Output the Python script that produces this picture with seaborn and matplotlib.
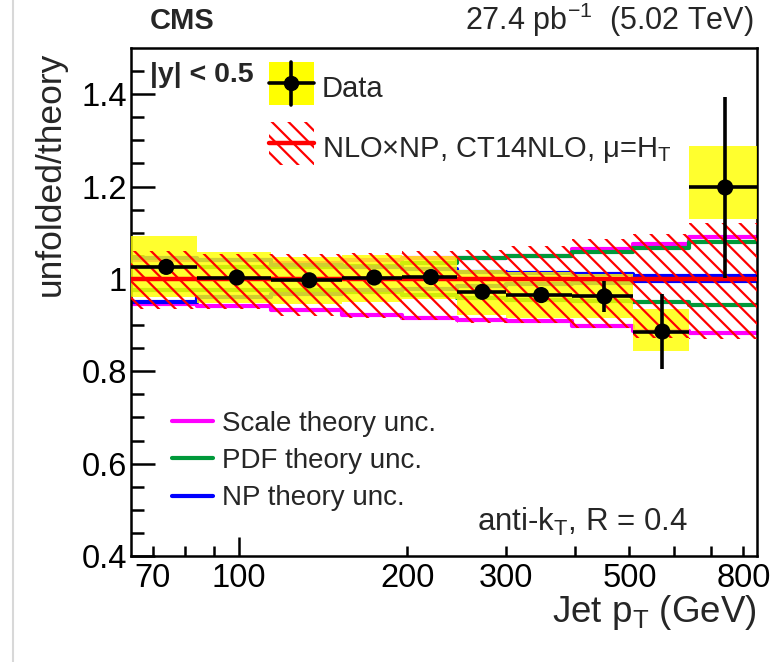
import numpy as np
import pandas as pd
import matplotlib
matplotlib.use("Agg")
import matplotlib.pyplot as plt
import seaborn as sns
from matplotlib.lines import Line2D
from matplotlib.patches import Rectangle, Patch
from matplotlib.legend_handler import HandlerBase
from matplotlib.ticker import FixedLocator, FixedFormatter, NullFormatter

# ---------------- data ----------------
bin_edges = [64, 84, 114, 153, 196, 245, 300, 395, 507, 638, 846]
data_ratio = [1.026, 1.003, 0.997, 1.003, 1.004, 0.972, 0.965, 0.962, 0.886, 1.198]
data_stat = [0.004, 0.004, 0.004, 0.005, 0.006, 0.008, 0.012, 0.034, 0.081, 0.195]
data_syst_lo = [0.960, 0.947, 0.946, 0.950, 0.957, 0.922, 0.915, 0.915, 0.844, 1.129]
data_syst_hi = [1.092, 1.059, 1.048, 1.052, 1.050, 1.020, 1.015, 1.010, 0.935, 1.288]

total_up = [1.060, 1.055, 1.054, 1.057, 1.060, 1.062, 1.072, 1.087, 1.097, 1.120]
total_dn = [0.935, 0.935, 0.920, 0.915, 0.910, 0.905, 0.905, 0.893, 0.873, 0.869]
scale_up = [1.040, 1.040, 1.035, 1.040, 1.045, 1.045, 1.050, 1.064, 1.075, 1.091]
scale_dn = [0.945, 0.941, 0.933, 0.922, 0.916, 0.910, 0.909, 0.898, 0.887, 0.882]
pdf_up = [1.025, 1.025, 1.025, 1.028, 1.035, 1.046, 1.050, 1.058, 1.068, 1.079]
pdf_dn = [0.975, 0.975, 0.975, 0.972, 0.965, 0.958, 0.955, 0.952, 0.949, 0.943]
np_up = [1.045, 1.040, 1.030, 1.025, 1.022, 1.015, 1.012, 1.010, 1.007, 1.006]
np_dn = [0.950, 0.960, 0.968, 0.975, 0.978, 0.985, 0.990, 0.992, 0.995, 0.996]
theory_central = [1.0] * 10

x_tick_labels = ["70", "100", "200", "300", "500", "800"]
y_tick_labels = ["0.4", "0.6", "0.8", "1", "1.2", "1.4"]

# ---------------- style ----------------
sns.set_theme(style="ticks")
plt.rcParams["font.family"] = ["Liberation Sans", "DejaVu Sans"]
plt.rcParams["mathtext.fontset"] = "custom"
plt.rcParams["mathtext.rm"] = "Liberation Sans"
plt.rcParams["mathtext.it"] = "Liberation Sans:italic"
plt.rcParams["mathtext.bf"] = "Liberation Sans:bold"
plt.rcParams["hatch.linewidth"] = 1.6
plt.rcParams["axes.linewidth"] = 1.8

MAGENTA = "#ff00ff"
GREEN = "#00993a"
BLUE = "#0000ff"
RED = "#ff0000"
YELLOW = "#ffff00"

fig = plt.figure(figsize=(7.83, 6.62), dpi=100)
ax = fig.add_axes([131 / 783, 1 - 556 / 662, 626 / 783, 508 / 662])

edges = np.array(bin_edges, dtype=float)
lo = edges[:-1]
hi = edges[1:]
centers = 0.5 * (lo + hi)

def ext(v):
    v = list(v)
    return v + [v[-1]]

# theory component lines (drawn first, under the yellow boxes)
for up, dn, col in [(scale_up, scale_dn, MAGENTA), (pdf_up, pdf_dn, GREEN), (np_up, np_dn, BLUE)]:
    for arr in (up, dn):
        df = pd.DataFrame({"pt": edges, "r": ext(arr)})
        sns.lineplot(data=df, x="pt", y="r", ax=ax, color=col, lw=3.0,
                     drawstyle="steps-post", estimator=None, sort=False, zorder=2)

# data systematic boxes
ax.bar(lo, np.array(data_syst_hi) - np.array(data_syst_lo), bottom=data_syst_lo,
       width=hi - lo, align="edge", color=YELLOW, alpha=0.82, linewidth=0, zorder=3)

# total theory uncertainty hatch
ax.fill_between(edges, ext(total_dn), ext(total_up), step="post", facecolor="none",
                edgecolor=RED, hatch="\\\\", linewidth=0, zorder=4)

# central theory
dfc = pd.DataFrame({"pt": edges, "r": ext(theory_central)})
sns.lineplot(data=dfc, x="pt", y="r", ax=ax, color=RED, lw=3.2,
             drawstyle="steps-post", estimator=None, sort=False, zorder=5)

# data points
ax.errorbar(centers, data_ratio, yerr=data_stat, xerr=[centers - lo, hi - centers],
            fmt="none", ecolor="black", elinewidth=2.6, capsize=0, zorder=6)
sns.scatterplot(x=centers, y=data_ratio, ax=ax, color="black", s=135,
                edgecolor="none", zorder=7)

# ---------------- axes ----------------
ax.set_xscale("log")
ax.set_xlim(64, 846)
ax.set_ylim(0.4, 1.5)

ax.xaxis.set_major_locator(FixedLocator([100]))
ax.xaxis.set_major_formatter(FixedFormatter(["100"]))
minor_x = [70, 80, 90, 200, 300, 400, 500, 600, 700, 800]
ax.xaxis.set_minor_locator(FixedLocator(minor_x))
ax.xaxis.set_minor_formatter(FixedFormatter(["70", "", "", "200", "300", "", "500", "", "", "800"]))

ax.yaxis.set_major_locator(FixedLocator([0.4, 0.6, 0.8, 1.0, 1.2, 1.4]))
ax.yaxis.set_major_formatter(FixedFormatter(y_tick_labels))
ax.yaxis.set_minor_locator(FixedLocator(np.round(np.arange(0.45, 1.5, 0.05), 2)))
ax.yaxis.set_minor_formatter(NullFormatter())

ax.tick_params(axis="both", which="both", direction="in", top=False, right=False,
               colors="black", width=1.8)
ax.tick_params(axis="x", which="major", length=14, labelsize=23.5, pad=5)
ax.tick_params(axis="x", which="minor", length=7, labelsize=23.5, pad=5)
ax.tick_params(axis="y", which="major", length=17, labelsize=23.5, pad=3)
ax.tick_params(axis="y", which="minor", length=9)
for s in ax.spines.values():
    s.set_color("black")
    s.set_linewidth(1.8)

ax.set_xlabel("Jet p$_{\\mathrm{T}}$ (GeV)", fontsize=26.5, loc="right")
ax.xaxis.set_label_coords(1.0, -0.072)
ax.set_ylabel("unfolded/theory", fontsize=25.5, rotation=90, rotation_mode="default",
              ha="right", va="top")
ax.yaxis.set_label_coords(-0.102, 0.992)

# ---------------- texts ----------------
fig.text(150 / 783, 1 - 29 / 662, "CMS", fontsize=21, fontweight="bold", ha="left", va="baseline")
fig.text(754 / 783, 1 - 30 / 662, "27.4 pb$^{-1}$  (5.02 TeV)", fontsize=22, ha="right", va="baseline")
ax.text(0.031, 0.933, "|y| < 0.5", transform=ax.transAxes, fontsize=20.5, fontweight="bold",
        ha="left", va="baseline")
ax.text(0.553, 0.05, "anti-k$_{\\mathrm{T}}$, R = 0.4", transform=ax.transAxes, fontsize=22.5,
        ha="left", va="baseline")

# ---------------- legends ----------------
class DataHandler(HandlerBase):
    def create_artists(self, legend, orig_handle, xdescent, ydescent, width, height, fontsize, trans):
        x0, y0 = -xdescent, -ydescent
        full = height + ydescent
        r = Rectangle((x0, y0), width, full, facecolor=YELLOW, edgecolor="none", transform=trans)
        h = Line2D([x0, x0 + width], [y0 + full / 2] * 2, color="black", lw=2.6, transform=trans)
        v = Line2D([x0 + width / 2] * 2, [y0, y0 + full], color="black", lw=2.6, transform=trans)
        m = Line2D([x0 + width / 2], [y0 + full / 2], marker="o", ms=10, color="black",
                   lw=0, transform=trans)
        return [r, h, v, m]

class TheoryHandler(HandlerBase):
    def create_artists(self, legend, orig_handle, xdescent, ydescent, width, height, fontsize, trans):
        x0, y0 = -xdescent, -ydescent
        full = height + ydescent
        r = Rectangle((x0, y0), width, full, facecolor="none", edgecolor=RED, hatch="\\\\",
                      lw=0, transform=trans)
        l = Line2D([x0, x0 + width], [y0 + full / 2] * 2, color=RED, lw=3.2, transform=trans)
        return [r, l]

fs1 = 21
px1 = fs1 * 100 / 72
leg1 = ax.legend(handles=[Patch(), Line2D([], [])],
                 labels=["Data", "NLO\u00d7NP, CT14NLO, \u03bc=H$_{\\mathrm{T}}$"],
                 handler_map={Patch: DataHandler(), Line2D: TheoryHandler()},
                 loc="upper left", bbox_to_anchor=(0.2204, 0.957), frameon=False,
                 fontsize=fs1, handlelength=45 / px1, handleheight=43 / px1,
                 handletextpad=8 / px1, borderpad=0, borderaxespad=0, labelspacing=0.84)
ax.add_artist(leg1)

fs2 = 20
px2 = fs2 * 100 / 72
h2 = [Line2D([], [], color=MAGENTA, lw=3.0), Line2D([], [], color=GREEN, lw=3.0),
      Line2D([], [], color=BLUE, lw=3.0)]
leg2 = ax.legend(handles=h2, labels=["Scale theory unc.", "PDF theory unc.", "NP theory unc."],
                 loc="upper left", bbox_to_anchor=(0.0655, 0.286), frameon=False,
                 fontsize=fs2, handlelength=41 / px2, handletextpad=9 / px2,
                 borderpad=0, borderaxespad=0, labelspacing=0.41)

# light screenshot border on the left
fig.add_artist(Line2D([13 / 783, 13 / 783], [0, 1], color="#d8d8d8", lw=1.5,
                      transform=fig.transFigure))

fig.savefig("out.png", dpi=100)
